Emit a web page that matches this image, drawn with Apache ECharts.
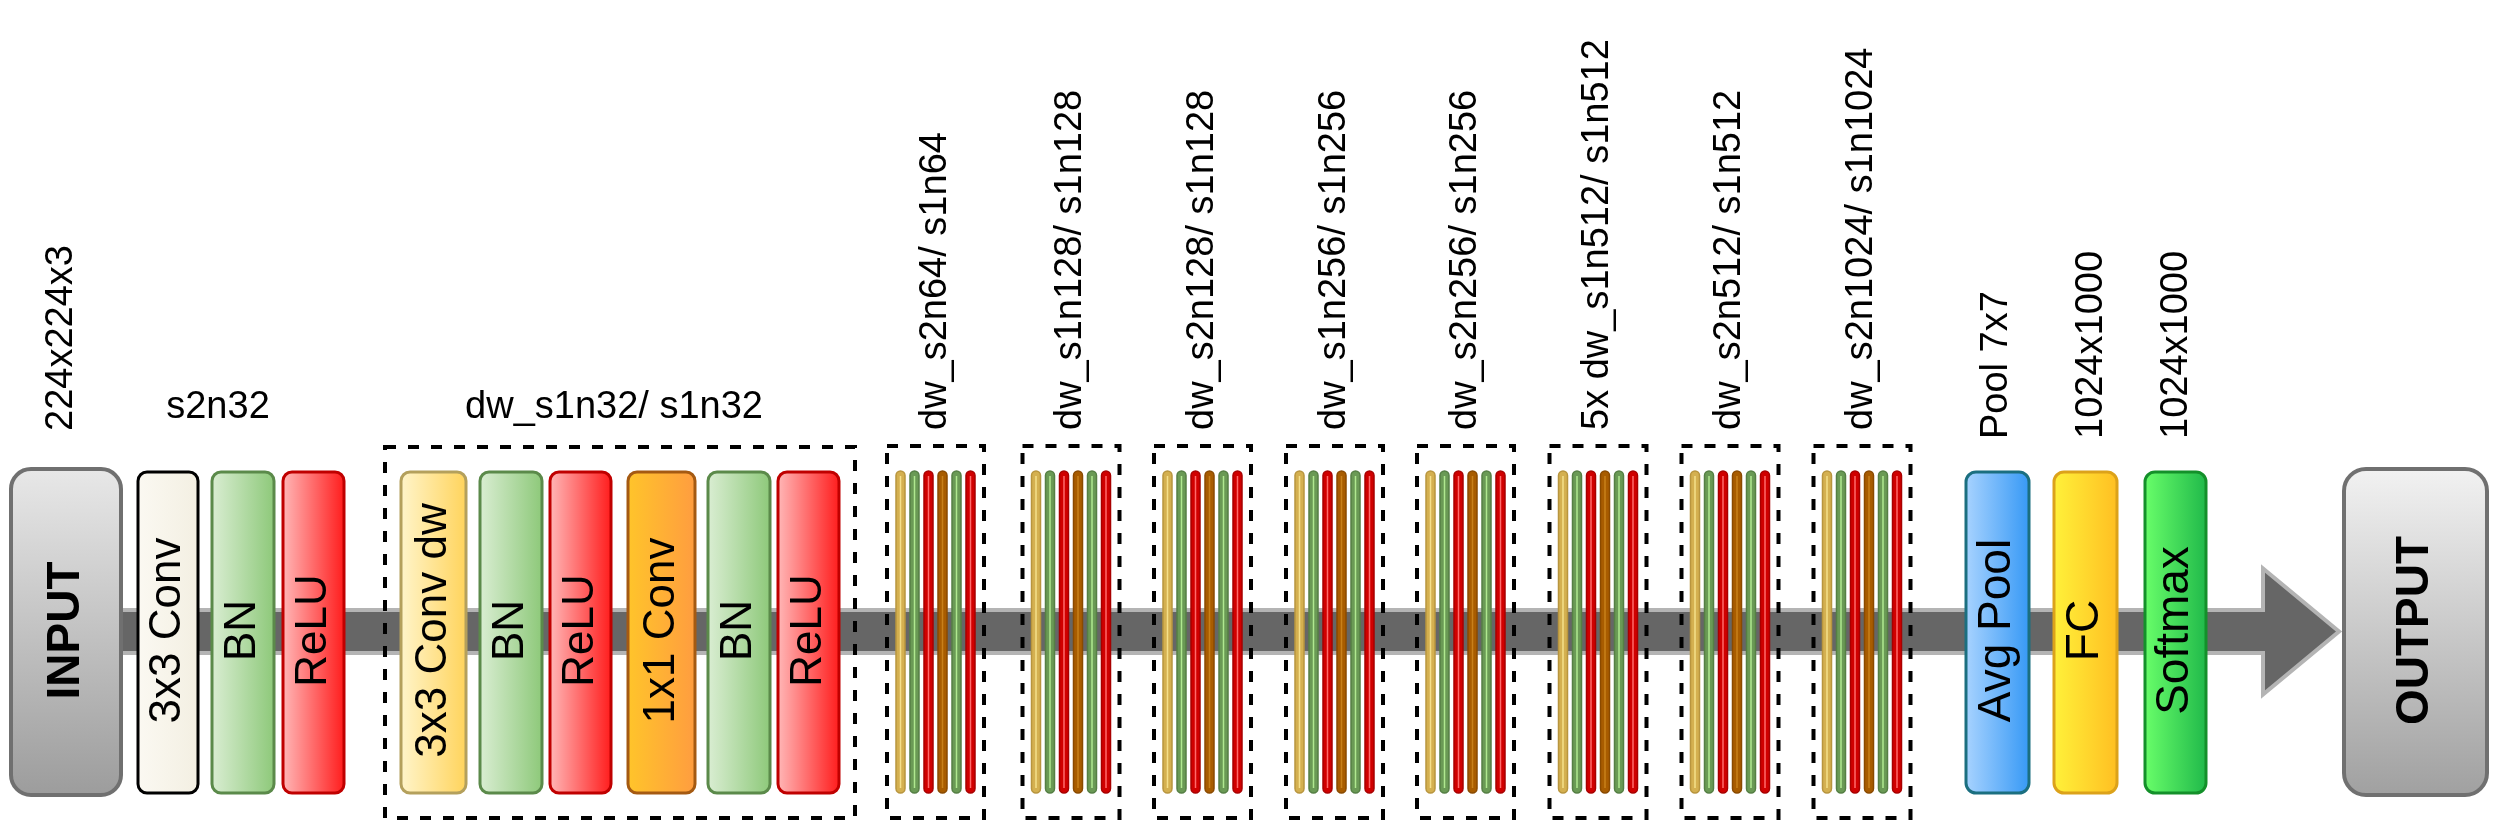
<!DOCTYPE html>
<html lang="en">
<head>
    <meta charset="UTF-8">
    <title>MobileNet</title>
    <script src="https://cdn.jsdelivr.net/npm/echarts@6.0.0/dist/echarts.min.js"></script>
    <style>
        html, body { margin: 0; padding: 0; background: #ffffff; }
        #chart { width: 2512px; height: 824px; }
    </style>
</head>
<body>
<div id="chart"></div>
<script>
    // layers along the flow (x = centre in diagram units)
    var blockNames = ['INPUT', '3x3 Conv', 'BN', 'ReLU', '3x3 Conv dw', 'BN', 'ReLU', '1x1 Conv', 'BN', 'ReLU', 'Avg Pool', 'FC', 'Softmax', 'OUTPUT'];
    var blockKinds = ['input', 'conv', 'bn', 'relu', 'dw', 'bn', 'relu', 'pw', 'bn', 'relu', 'pool', 'fc', 'softmax', 'output'];
    var blockX = [66, 168, 243, 313.5, 433.5, 511, 580.5, 661.5, 739, 808.5, 1997.5, 2085.5, 2175.5, 2415.5];

    // repeated depthwise separable groups
    var groupNames = ['dw_s2n64/ s1n64', 'dw_s1n128/ s1n128', 'dw_s2n128/ s1n128', 'dw_s1n256/ s1n256',
        'dw_s2n256/ s1n256', '5x dw_s1n512/ s1n512', 'dw_s2n512/ s1n512', 'dw_s2n1024/ s1n1024'];
    var groupX = [935.5, 1071, 1202.5, 1334.5, 1465.5, 1598, 1730, 1862];
    var groupLayers = ['dw', 'bn', 'relu', 'pw', 'bn', 'relu'];

    // labels above the layers
    var headNames = ['s2n32', 'dw_s1n32/ s1n32'];
    var headX = [218, 614];
    var sizeNames = ['224x224x3', 'Pool 7x7', '1024x1000', '1024x1000'];
    var sizeX = [62, 1997, 2092, 2177];

    var FONT = "'Liberation Sans', Arial, sans-serif";
    var TOP = 472, BOTTOM = 793;

    var styles = {
        input:   {w: 110, r: 20, lw: 4, stroke: '#707070', v: true, c: ['#e8e8e8', '#9c9c9c'], font: 'bold 46px ' + FONT},
        output:  {w: 143, r: 22, lw: 4, stroke: '#707070', v: true, c: ['#f2f2f2', '#a0a0a0'], font: 'bold 46px ' + FONT},
        conv:    {w: 60, r: 9, lw: 3, stroke: '#000000', c: ['#fbf9f2', '#f3efe2'], font: '44px ' + FONT},
        bn:      {w: 62, r: 9, lw: 3, stroke: '#5b8a4a', c: ['#dbeed4', '#8cc878'], font: '44px ' + FONT},
        relu:    {w: 61, r: 9, lw: 3, stroke: '#c00000', c: ['#ffbaba', '#ff1a1a'], font: '44px ' + FONT},
        dw:      {w: 65, r: 9, lw: 3, stroke: '#b4a05c', c: ['#fff5cc', '#ffd35a'], font: '44px ' + FONT},
        pw:      {w: 67, r: 9, lw: 3, stroke: '#a55a12', c: ['#ffc52a', '#ff9c40'], font: '44px ' + FONT},
        pool:    {w: 63, r: 10, lw: 3, stroke: '#1b6f80', c: ['#aad4ff', '#3598f5'], font: '46px ' + FONT},
        fc:      {w: 63, r: 10, lw: 3, stroke: '#dca21a', c: ['#fff23a', '#ffbe22'], font: '46px ' + FONT},
        softmax: {w: 61, r: 10, lw: 3, stroke: '#14902a', c: ['#6aff6a', '#1fb84a'], font: '46px ' + FONT}
    };
    var thin = {
        dw:   {main: '#d4b050', dark: '#b8953e', light: '#f5e08a'},
        bn:   {main: '#6a9a55', dark: '#557f44', light: '#b0e890'},
        relu: {main: '#d00000', dark: '#a80000', light: '#ff6a6a'},
        pw:   {main: '#a85c00', dark: '#8a4a00', light: '#c8801a'}
    };

    function grad(st) {
        return new echarts.graphic.LinearGradient(0, 0, st.v ? 0 : 1, st.v ? 1 : 0, [
            {offset: 0, color: st.c[0]}, {offset: 1, color: st.c[1]}
        ]);
    }

    function renderFlow(params, api) {
        var x0 = api.value(0), tip = api.value(1);
        var base = tip - 76, mid = 631.5;
        var pts = [[x0, 610], [base, 610], [base, mid - 63], [tip, mid], [base, mid + 63], [base, 653], [x0, 653]];
        return {
            type: 'polygon',
            shape: {points: pts.map(function (p) { return api.coord(p); })},
            style: {fill: '#666666', stroke: '#b4b4b4', lineWidth: 4, lineJoin: 'miter'}
        };
    }

    function renderBlock(params, api) {
        var i = params.dataIndex;
        var st = styles[blockKinds[i]];
        var cx = api.value(0);
        var top = st.v ? TOP - 3 : TOP, bottom = st.v ? BOTTOM + 2 : BOTTOM;
        var a = api.coord([cx - st.w / 2, top]);
        var b = api.coord([cx + st.w / 2, bottom]);
        var c = api.coord([cx, (TOP + BOTTOM) / 2 - 2]);
        return {
            type: 'group',
            children: [{
                type: 'rect',
                shape: {x: a[0], y: a[1], width: b[0] - a[0], height: b[1] - a[1], r: st.r},
                style: {fill: grad(st), stroke: st.stroke, lineWidth: st.lw}
            }, {
                type: 'text', x: c[0], y: c[1], rotation: Math.PI / 2,
                style: {text: blockNames[i], font: st.font, fill: '#000', align: 'center', verticalAlign: 'middle'}
            }]
        };
    }

    function frameRect(api, x0, x1, y0, y1) {
        var a = api.coord([x0, y0]), b = api.coord([x1, y1]);
        return {
            type: 'rect',
            shape: {x: a[0], y: a[1], width: b[0] - a[0], height: b[1] - a[1]},
            style: {fill: 'none', stroke: '#000', lineWidth: 4, lineDash: [11, 12]}
        };
    }

    function renderGroup(params, api) {
        var cx = api.value(0);
        var kids = [frameRect(api, cx - 48.5, cx + 48.5, 446, 818)];
        groupLayers.forEach(function (k, j) {
            var bx = cx + (j - 2.5) * 14;
            var col = thin[k];
            var a = api.coord([bx - 4.5, 471]), b = api.coord([bx + 4.5, 793]);
            kids.push({
                type: 'rect',
                shape: {x: a[0], y: a[1], width: b[0] - a[0], height: b[1] - a[1], r: 4.5},
                style: {fill: col.main, stroke: col.dark, lineWidth: 1.5}
            });
            var l0 = api.coord([bx, 476]), l1 = api.coord([bx, 788]);
            kids.push({
                type: 'line',
                shape: {x1: l0[0], y1: l0[1], x2: l1[0], y2: l1[1]},
                style: {stroke: col.light, lineWidth: 1.5}
            });
        });
        var t = api.coord([cx, 430]);
        kids.push({
            type: 'text', x: t[0], y: t[1], rotation: Math.PI / 2,
            style: {text: groupNames[params.dataIndex], font: '38px ' + FONT, fill: '#000', align: 'left', verticalAlign: 'middle'}
        });
        return {type: 'group', children: kids};
    }

    function edge(i, side) {
        return blockX[i] + side * styles[blockKinds[i]].w / 2;
    }

    function renderHead(params, api) {
        var i = params.dataIndex;
        var kids = [];
        if (i === 1) {
            // dashed frame round the first depthwise separable block
            kids.push(frameRect(api, edge(4, -1) - 16, edge(9, 1) + 16, 447, 818));
        }
        var p = api.coord([api.value(0), 408]);
        kids.push({
            type: 'text', x: p[0], y: p[1],
            style: {text: headNames[i], font: '38px ' + FONT, fill: '#000', align: 'center', verticalAlign: 'middle'}
        });
        return {type: 'group', children: kids};
    }

    function renderSize(params, api) {
        var i = params.dataIndex;
        var p = api.coord([api.value(0), i === 0 ? 431 : 439]);
        return {
            type: 'text', x: p[0], y: p[1], rotation: Math.PI / 2,
            style: {text: sizeNames[i], font: '38px ' + FONT, fill: '#000', align: 'left', verticalAlign: 'middle'}
        };
    }

    var option = {
        backgroundColor: '#ffffff',
        animation: false,
        grid: {left: 0, right: 0, top: 0, bottom: 0},
        xAxis: {type: 'value', min: 0, max: 2512, show: false},
        yAxis: {type: 'value', min: 0, max: 824, inverse: true, show: false},
        series: [
            {type: 'custom', name: 'flow', renderItem: renderFlow, data: [[blockX[0], edge(13, -1) - 5]]},
            {type: 'custom', name: 'blocks', renderItem: renderBlock, data: blockX.map(function (x) { return [x]; })},
            {type: 'custom', name: 'groups', renderItem: renderGroup, data: groupX.map(function (x) { return [x]; })},
            {type: 'custom', name: 'heads', renderItem: renderHead, data: headX.map(function (x) { return [x]; })},
            {type: 'custom', name: 'sizes', renderItem: renderSize, data: sizeX.map(function (x) { return [x]; })}
        ]
    };
    echarts.init(document.getElementById('chart')).setOption(option);
</script>
</body>
</html>
